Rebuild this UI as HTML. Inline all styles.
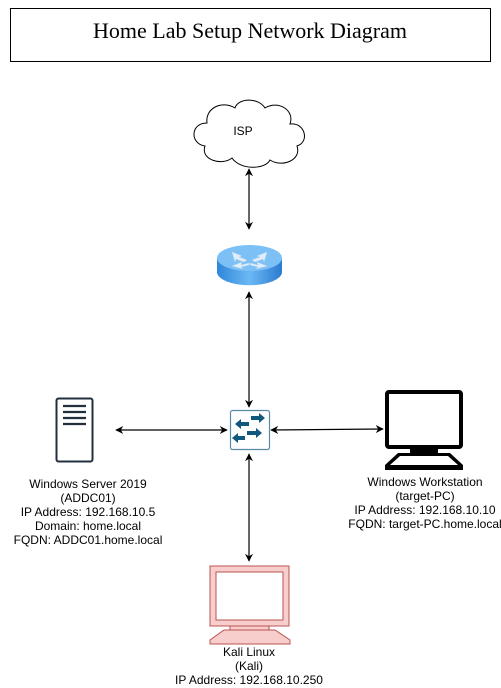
<!DOCTYPE html>
<html><head><meta charset="utf-8"><style>
html,body{margin:0;padding:0;background:#fff;}
body{width:501px;height:688px;position:relative;overflow:hidden;}
</style></head><body>
<svg width="501" height="688" viewBox="0 0 501 688" xmlns="http://www.w3.org/2000/svg" style="position:absolute;left:0;top:0">
<defs>
<marker id="a" viewBox="0 0 10 10" refX="9" refY="5" markerWidth="8" markerHeight="8" orient="auto-start-reverse" markerUnits="userSpaceOnUse"><path d="M0,0 L10,5 L0,10 L3,5 Z" fill="#000"/></marker>
<linearGradient id="rg" x1="0" x2="1"><stop offset="0" stop-color="#2f86d8"/><stop offset="0.5" stop-color="#6cb8f5"/><stop offset="1" stop-color="#2a7bd0"/></linearGradient>
</defs>
<rect x="10.5" y="8.5" width="480" height="53" fill="#fff" stroke="#000"/>
<text x="250" y="38" text-anchor="middle" font-family="Liberation Serif, serif" font-size="22">Home Lab Setup Network Diagram</text>
<path d="M207,123 C190,123 190,144 205,146 C200,160 222,166 232,158 C240,170 265,170 270,160 C282,168 302,160 297,146 C310,142 305,122 290,124 C295,110 278,100 265,108 C258,97 238,98 235,108 C222,100 205,108 207,123 Z" fill="#fff" stroke="#000"/>
<text x="243" y="135" text-anchor="middle" font-family="Liberation Sans, sans-serif" font-size="12">ISP</text>
<g stroke="#000" stroke-width="1.2" fill="none">
<line x1="249" y1="169" x2="249" y2="229" marker-start="url(#a)" marker-end="url(#a)"/>
<line x1="249" y1="292" x2="249" y2="407" marker-start="url(#a)" marker-end="url(#a)"/>
<line x1="116" y1="430" x2="227" y2="430" marker-start="url(#a)" marker-end="url(#a)"/>
<line x1="271" y1="430" x2="383" y2="429" marker-start="url(#a)" marker-end="url(#a)"/>
<line x1="249" y1="454" x2="249" y2="561" marker-start="url(#a)" marker-end="url(#a)"/>
</g>
<path d="M217,258 L217,272 A32,13 0 0 0 282,272 L282,258 Z" fill="url(#rg)"/>
<ellipse cx="249.5" cy="258" rx="32.5" ry="13" fill="#7cc0f5"/>
<g fill="#dfeefa" stroke="#b8d6ee" stroke-width="0.5">
<path d="M232,252 l10,4 l-3,1 l8,3 l-3,2 l-8,-3 l-1,3 z"/>
<path d="M267,252 l-10,4 l3,1 l-8,3 l3,2 l8,-3 l1,3 z"/>
<path d="M232,266 l10,-4 l-1,3 l8,-2 l0,2 l-8,2 l2,2 z"/>
<path d="M267,266 l-10,-4 l1,3 l-8,-2 l0,2 l8,2 l-2,2 z"/>
</g>
<rect x="230.5" y="410.5" width="39" height="39" rx="2" fill="#fff" stroke="#5a8aa6" stroke-width="1.2"/>
<g fill="#10587e">
<path d="M251,416 h8 v-3 l6,5 l-6,5 v-3 h-8 z"/>
<path d="M249,422 h-8 v-3 l-6,5 l6,5 v-3 h8 z"/>
<path d="M247,431 h9 v-3 l6,5 l-6,5 v-3 h-9 z"/>
<path d="M245,436 h-7 v-3 l-6,5 l6,5 v-3 h7 z"/>
</g>
<rect x="56.5" y="398.5" width="36" height="63" rx="2" fill="#fff" stroke="#232f3e" stroke-width="2"/>
<g stroke="#232f3e" stroke-width="2.2"><line x1="63" y1="406" x2="86" y2="406"/><line x1="63" y1="412" x2="86" y2="412"/><line x1="63" y1="418" x2="86" y2="418"/><line x1="63" y1="424" x2="86" y2="424"/></g>
<rect x="387" y="392" width="74" height="55" rx="2" fill="#fff" stroke="#000" stroke-width="4"/>
<rect x="410" y="448" width="28" height="5" fill="#000"/>
<path d="M398,453 H450 L463,465 V470 H385 V465 Z" fill="#000"/>
<path d="M400,456 H448 L458,465 H390 Z" fill="#fff"/>
<path d="M210,566 h79 v60 h-79 z M216,572 v48 h67 v-48 z" fill="#f8cecc" stroke="#b85450" fill-rule="evenodd"/>
<path d="M230,626 h39 v4 h-39 z" fill="#f8cecc" stroke="#b85450"/>
<path d="M224,630 H275 L290,640 V644 H210 V640 Z" fill="#f8cecc" stroke="#b85450"/>
<g font-family="Liberation Sans, sans-serif" font-size="12" fill="#000" text-anchor="middle">
<text x="88" y="488">Windows Server 2019</text>
<text x="88" y="502">(ADDC01)</text>
<text x="88" y="516">IP Address: 192.168.10.5</text>
<text x="88" y="530">Domain: home.local</text>
<text x="88" y="544">FQDN: ADDC01.home.local</text>
<text x="425" y="486">Windows Workstation</text>
<text x="425" y="500">(target-PC)</text>
<text x="425" y="514">IP Address: 192.168.10.10</text>
<text x="425" y="528">FQDN: target-PC.home.local</text>
<text x="249" y="656">Kali Linux</text>
<text x="249" y="670">(Kali)</text>
<text x="249" y="684">IP Address: 192.168.10.250</text>
</g>
</svg>
</body></html>
